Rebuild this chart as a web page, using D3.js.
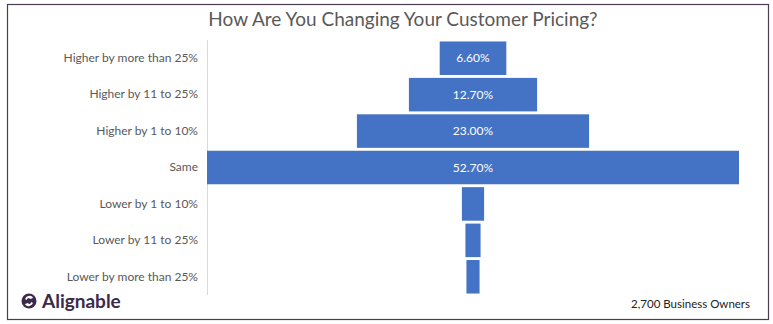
<!DOCTYPE html>
<html><head><meta charset="utf-8">
<script src="https://cdn.jsdelivr.net/npm/d3@7"></script>
<style>html,body{margin:0;padding:0;background:#fff;}svg{display:block;}</style>
</head><body>
<script>
const categories = ["Higher by more than 25%","Higher by 11 to 25%","Higher by 1 to 10%","Same","Lower by 1 to 10%","Lower by 11 to 25%","Lower by more than 25%"];
const values = [6.6, 12.7, 23.0, 52.7, 2.2, 1.5, 1.3];
const valueLabels = ["6.60%","12.70%","23.00%","52.70%","","",""];
const title = "How Are You Changing Your Customer Pricing?";
const footnote = "2,700 Business Owners";
const brand = "Alignable";

const W = 773, H = 324;
const svg = d3.select("body").append("svg").attr("width", W).attr("height", H);
const font = "Lato, 'Open Sans', sans-serif";

// frame
svg.append("rect").attr("x", 7.5).attr("y", 4.5).attr("width", 761).attr("height", 315)
  .attr("fill", "none").attr("stroke", "#4b3b55").attr("stroke-width", 1.2);

const xLeft = 207, xRight = 739, yTop = 40, yBottom = 295;
const center = (xLeft + xRight) / 2;
const maxV = d3.max(values);
const w = d3.scaleLinear().domain([0, maxV]).range([0, xRight - xLeft]);
const y = d3.scaleBand().domain(categories).range([yTop, yBottom]).paddingInner(0.08).paddingOuter(0.04);

svg.append("text").attr("x", 403).attr("y", 26).attr("text-anchor", "middle")
  .attr("font-family", font).attr("font-size", 19).attr("fill", "#595959").text(title);

// axis line
svg.append("line").attr("x1", xLeft + 0.5).attr("x2", xLeft + 0.5).attr("y1", yTop).attr("y2", yBottom)
  .attr("stroke", "#d9d9d9").attr("stroke-width", 1);

const yAxis = d3.axisLeft(y).tickSize(0).tickPadding(9);
const ga = svg.append("g").attr("transform", `translate(${xLeft},0)`).call(yAxis);
ga.select(".domain").remove();
ga.selectAll("text").attr("font-family", font).attr("font-size", 12).attr("fill", "#595959");

svg.selectAll("rect.bar").data(values).join("rect").attr("class", "bar")
  .attr("x", d => center - w(d) / 2).attr("width", d => w(d))
  .attr("y", (d, i) => y(categories[i])).attr("height", y.bandwidth())
  .attr("fill", "#4472c4");

svg.selectAll("text.lbl").data(values).join("text").attr("class", "lbl")
  .attr("x", center).attr("y", (d, i) => y(categories[i]) + y.bandwidth() / 2)
  .attr("dy", "0.35em").attr("text-anchor", "middle")
  .attr("font-family", font).attr("font-size", 12).attr("fill", "#fff")
  .text((d, i) => valueLabels[i]);

svg.append("text").attr("x", 750).attr("y", 308).attr("text-anchor", "end")
  .attr("font-family", font).attr("font-size", 11.5).attr("fill", "#222").text(footnote);

// logo
const lg = svg.append("g").attr("transform", "translate(29,301)");
lg.append("circle").attr("r", 7.5).attr("fill", "#3b2a4a");
lg.append("path").attr("d", "M-4,-2 C-2,-6 3,-6 4,-3 L1,-2 C0,-4 -2,-3 -2,-1 Z").attr("fill", "#fff");
lg.append("path").attr("d", "M4,2 C2,6 -3,6 -4,3 L-1,2 C0,4 2,3 2,1 Z").attr("fill", "#fff");
svg.append("text").attr("x", 42).attr("y", 308)
  .attr("font-family", font).attr("font-size", 19).attr("font-weight", "bold").attr("fill", "#3b2a4a").text(brand);
</script>
</body></html>
